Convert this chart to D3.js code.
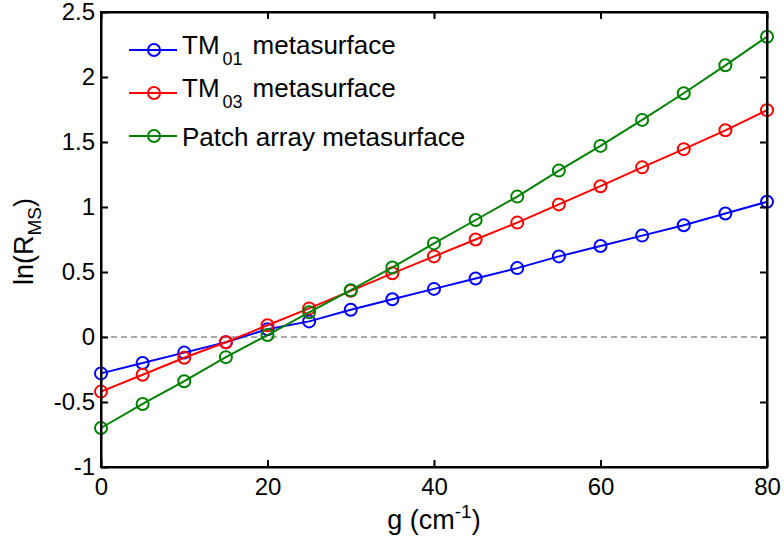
<!DOCTYPE html>
<meta charset="utf-8">
<style>
body { margin: 0; background: #fff; }
svg { font-family: Arial, "Liberation Sans", sans-serif; }
.lbl { font-size: 26px; fill: #000; }
</style>
<script src="https://d3js.org/d3.v7.min.js"></script>
<body>
<svg width="784" height="542"></svg>
<script>

// g values (cm^-1)
var gVals = [0, 5, 10, 15, 20, 25, 30, 35, 40, 45, 50, 55, 60, 65, 70, 75, 80];

var tm01 = [-0.28, -0.20, -0.12, -0.04, 0.06, 0.12, 0.21, 0.29, 0.37, 0.45, 0.53, 0.62, 0.70, 0.78, 0.86, 0.95, 1.04];
var tm03 = [-0.42, -0.29, -0.16, -0.04, 0.09, 0.22, 0.355, 0.49, 0.62, 0.75, 0.88, 1.02, 1.16, 1.305, 1.445, 1.59, 1.745];
var patch = [-0.70, -0.515, -0.34, -0.155, 0.015, 0.19, 0.36, 0.535, 0.72, 0.90, 1.08, 1.28, 1.47, 1.67, 1.875, 2.09, 2.31];

var xTicks = [0, 20, 40, 60, 80];
var yTicks = [-1, -0.5, 0, 0.5, 1, 1.5, 2, 2.5];

var series = [
  { name: "TM", sub: "01", rest: "metasurface", color: "#0000ff", values: tm01 },
  { name: "TM", sub: "03", rest: "metasurface", color: "#ff0000", values: tm03 },
  { name: "Patch array metasurface", sub: "", rest: "", color: "#008000", values: patch }
];

var svg = d3.select("svg"),
    pLeft = 101, pRight = 767, pTop = 12, pBottom = 467;

var x = d3.scaleLinear().domain([0, 80]).range([pLeft, pRight]);
var y = d3.scaleLinear().domain([-1, 2.5]).range([pBottom, pTop]);

// zero reference line
svg.append("line")
    .attr("x1", x(0)).attr("x2", x(80))
    .attr("y1", y(0)).attr("y2", y(0))
    .attr("stroke", "#555").attr("stroke-width", 1)
    .attr("stroke-dasharray", "6,4");

var line = d3.line()
    .x(function(d, i) { return x(gVals[i]); })
    .y(function(d) { return y(d); });

series.forEach(function(s) {
  svg.append("path")
      .datum(s.values)
      .attr("d", line)
      .attr("fill", "none")
      .attr("stroke", s.color)
      .attr("stroke-width", 2);
  svg.selectAll(null)
      .data(s.values)
      .enter().append("circle")
      .attr("cx", function(d, i) { return x(gVals[i]); })
      .attr("cy", function(d) { return y(d); })
      .attr("r", 6)
      .attr("fill", "none")
      .attr("stroke", s.color)
      .attr("stroke-width", 2);
});

// axes, ticks inward
svg.append("g").attr("transform", "translate(0," + pBottom + ")")
    .call(d3.axisBottom(x).tickValues(xTicks).tickSizeInner(-7).tickSizeOuter(0).tickPadding(11).tickFormat(d3.format("d")));
svg.append("g").attr("transform", "translate(0," + pTop + ")")
    .call(d3.axisTop(x).tickValues(xTicks).tickSizeInner(-7).tickSizeOuter(0).tickFormat(""));
svg.append("g").attr("transform", "translate(" + pLeft + ",0)")
    .call(d3.axisLeft(y).tickValues(yTicks).tickSizeInner(-7).tickSizeOuter(0).tickPadding(6).tickFormat(function(d) { return d; }));
svg.append("g").attr("transform", "translate(" + pRight + ",0)")
    .call(d3.axisRight(y).tickValues(yTicks).tickSizeInner(-7).tickSizeOuter(0).tickFormat(""));

svg.selectAll(".domain").attr("stroke", "#000").attr("stroke-width", 2);
svg.selectAll(".tick line").attr("stroke", "#000").attr("stroke-width", 2);
svg.selectAll(".tick text")
    .style("font-family", "Arial, 'Liberation Sans', sans-serif")
    .style("font-size", "24px")
    .style("fill", "#000");

// box edges
svg.append("rect")
    .attr("x", pLeft).attr("y", pTop)
    .attr("width", pRight - pLeft).attr("height", pBottom - pTop)
    .attr("fill", "none").attr("stroke", "#000").attr("stroke-width", 2);

// axis labels
var xl = svg.append("text").attr("class", "lbl")
    .style("font-size", "27px")
    .attr("x", (pLeft + pRight) / 2).attr("y", 529).attr("text-anchor", "middle");
xl.append("tspan").text("g (cm");
xl.append("tspan").attr("dy", -11).attr("font-size", 19).text("-1");
xl.append("tspan").attr("dy", 11).text(")");

var yl = svg.append("text").attr("class", "lbl")
    .style("font-size", "27px")
    .attr("transform", "translate(33," + ((pTop + pBottom) / 2 + 2) + ") rotate(-90)")
    .attr("text-anchor", "middle");
yl.append("tspan").text("ln(R");
yl.append("tspan").attr("dy", 8).attr("font-size", 19).text("MS");
yl.append("tspan").attr("dy", -8).text(")");

// legend
var legend = svg.append("g");
var rowY = 50;
series.forEach(function(s, i) {
  var ly = rowY;
  rowY += s.sub ? 43 : 37;
  legend.append("line")
      .attr("x1", 129).attr("x2", 177).attr("y1", ly).attr("y2", ly)
      .attr("stroke", s.color).attr("stroke-width", 2);
  legend.append("circle")
      .attr("cx", 154).attr("cy", ly).attr("r", 6)
      .attr("fill", "none").attr("stroke", s.color).attr("stroke-width", 2);
  var t = legend.append("text").attr("class", "lbl")
      .attr("x", 182).attr("y", ly + (s.sub ? 4 : 10));
  t.append("tspan").text(s.name);
  if (s.sub) {
    t.append("tspan").attr("dx", 3).attr("dy", 11).attr("font-size", 18).text(s.sub);
    t.append("tspan").attr("dx", 10).attr("dy", -11).text(s.rest);
  }
});

</script>
</body>
